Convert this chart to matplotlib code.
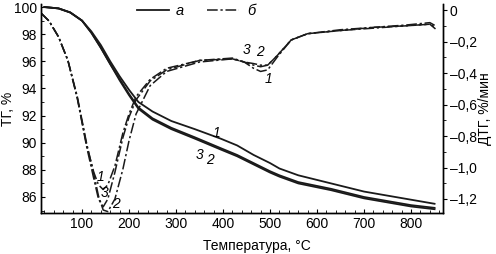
import matplotlib

matplotlib.use("Agg")
import matplotlib.pyplot as plt
from matplotlib.ticker import FuncFormatter, MultipleLocator

plt.rcParams["font.family"] = ["Liberation Sans", "DejaVu Sans"]
plt.rcParams["font.size"] = 10

# ТГ (кривые а), %
t_tg = [20, 50, 75, 100, 120, 140, 160, 180, 200, 220, 250, 290, 340, 395, 430, 465, 500, 520, 560, 630, 700, 800, 850]
tg_1 = [100.0, 99.9, 99.6, 99.0, 98.2, 97.2, 96.0, 94.9, 93.9, 93.0, 92.3, 91.6, 91.0, 90.3, 89.8, 89.1, 88.5, 88.1, 87.6, 87.0, 86.4, 85.8, 85.5]
tg_2 = [100.0, 99.9, 99.6, 99.0, 98.1, 97.0, 95.8, 94.7, 93.6, 92.6, 91.8, 91.1, 90.4, 89.6, 89.1, 88.5, 87.9, 87.6, 87.1, 86.6, 86.0, 85.4, 85.2]
tg_3 = [100.0, 99.9, 99.6, 99.0, 98.1, 97.0, 95.8, 94.6, 93.5, 92.5, 91.7, 91.0, 90.3, 89.5, 89.0, 88.4, 87.8, 87.5, 87.0, 86.5, 85.9, 85.3, 85.1]

# ДТГ (кривые б), %/мин
t_dtg = [13, 30, 50, 70, 90, 110, 125, 135, 145, 155, 170, 187, 200, 215, 245, 280, 350, 420, 445, 465, 480, 495, 515, 545, 580, 650, 720, 790, 840, 852]
dtg_1 = [-0.02, -0.07, -0.17, -0.32, -0.56, -0.86, -1.03, -1.11, -1.14, -1.11, -0.99, -0.78, -0.66, -0.55, -0.44, -0.37, -0.32, -0.305, -0.33, -0.37, -0.39, -0.38, -0.30, -0.19, -0.15, -0.125, -0.11, -0.095, -0.08, -0.10]
dtg_2 = [-0.02, -0.07, -0.17, -0.32, -0.55, -0.85, -1.04, -1.18, -1.27, -1.28, -1.20, -1.01, -0.83, -0.66, -0.48, -0.39, -0.33, -0.31, -0.33, -0.35, -0.36, -0.35, -0.29, -0.19, -0.15, -0.13, -0.11, -0.10, -0.09, -0.12]
dtg_3 = [-0.02, -0.07, -0.17, -0.32, -0.56, -0.87, -1.07, -1.20, -1.25, -1.20, -1.03, -0.81, -0.68, -0.57, -0.45, -0.38, -0.32, -0.31, -0.33, -0.34, -0.35, -0.35, -0.29, -0.19, -0.15, -0.13, -0.115, -0.10, -0.09, -0.11]

x_ticks = [100, 200, 300, 400, 500, 600, 700, 800]
tg_ticks = [86, 88, 90, 92, 94, 96, 98, 100]
dtg_ticks = [-1.2, -1.0, -0.8, -0.6, -0.4, -0.2, 0.0]

# подписи номеров кривых: (T, значение, текст)
tg_labels = [(387, 90.7, "1"), (351, 89.1, "3"), (372, 88.7, "2")]
dtg_labels = [(140, -1.06, "1"), (149, -1.16, "3"), (172, -1.23, "2"),
              (451, -0.255, "3"), (479, -0.265, "2"), (496, -0.44, "1")]

DASHDOT = (0, (7, 1.8, 1.5, 1.8))


def comma_fmt(v, _pos):
    if abs(v) < 1e-9:
        return "0"
    s = f"{abs(v):.1f}".replace(".", ",")
    return ("\u2013" + s) if v < 0 else s


fig = plt.figure(figsize=(4.96, 2.54), dpi=100)
ax = fig.add_axes([0.0827, 0.1614, 0.8105, 0.8226])
ax2 = ax.twinx()

# ТГ
for y in (tg_1, tg_2, tg_3):
    ax.plot(t_tg, y, color="#1a1a1a", linewidth=1.3)
l_a, = ax.plot([], [], color="#1a1a1a", linewidth=1.3, label="а")

# ДТГ
for y in (dtg_1, dtg_2, dtg_3):
    ax2.plot(t_dtg, y, color="#1a1a1a", linewidth=1.1, linestyle=DASHDOT)
l_b, = ax.plot([], [], color="#1a1a1a", linewidth=1.1, linestyle=DASHDOT, label="б")

for t, v, s in tg_labels:
    ax.text(t, v, s, style="italic", fontsize=10, ha="center", va="center")
for t, v, s in dtg_labels:
    ax2.text(t, v, s, style="italic", fontsize=10, ha="center", va="center")

ax.set_xlim(12.8, 868)
ax.set_ylim(84.82, 100.22)
ax2.set_ylim(-1.289, 0.038)

ax.set_xticks(x_ticks)
ax.xaxis.set_minor_locator(MultipleLocator(20))
ax.set_yticks(tg_ticks)
ax.yaxis.set_minor_locator(MultipleLocator(1))
ax2.set_yticks(dtg_ticks)
ax2.yaxis.set_minor_locator(MultipleLocator(0.1))
ax2.yaxis.set_major_formatter(FuncFormatter(comma_fmt))

ax.tick_params(axis="both", which="major", direction="in", length=3, width=0.8, pad=3)
ax.tick_params(axis="both", which="minor", direction="in", length=2, width=0.6)
ax2.tick_params(axis="y", which="major", direction="out", length=3, width=0.8, pad=2)
ax2.tick_params(axis="y", which="minor", direction="out", length=2, width=0.6)

for a in (ax, ax2):
    a.spines["top"].set_visible(False)
    for sp in ("left", "right", "bottom"):
        a.spines[sp].set_linewidth(1.0)

ax.set_ylabel("ТГ, %")
ax.yaxis.set_label_coords(-0.064, 0.5)
ax2.set_ylabel("ДТГ, %/мин", labelpad=1)
ax.set_xlabel("Температура, °С")
ax.xaxis.set_label_coords(0.537, -0.125)

leg = ax.legend(handles=[l_a, l_b], loc="upper center", bbox_to_anchor=(0.385, 1.065), ncol=2,
                frameon=False, handlelength=2.2, columnspacing=1.6, handletextpad=0.5,
                prop={"style": "italic", "size": 10.5})

fig.savefig("out.png", dpi=100)
plt.close(fig)
